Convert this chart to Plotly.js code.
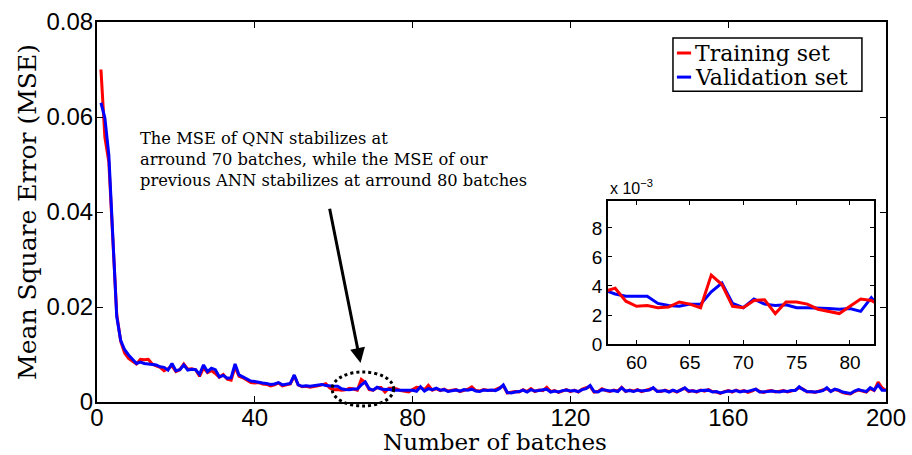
<!DOCTYPE html>
<html>
<head>
<meta charset="utf-8">
<script src="https://cdn.plot.ly/plotly-3.0.1.min.js"></script>
<style>html,body{margin:0;padding:0;background:#fff;}#chart{width:912px;height:455px;}</style>
</head>
<body>
<div id="chart"></div>
<script>
// Training set MSE per batch (batches 1..200)
const trainingMSE = [
0.0700,0.0557,0.0505,0.0350,0.0185,0.0128,0.0103,0.0092,0.0085,0.0080,
0.0090,0.0089,0.0090,0.0080,0.0076,0.0073,0.0066,0.0070,0.0076,0.0064,
0.0068,0.0080,0.0069,0.0070,0.0068,0.0054,0.0072,0.0062,0.0066,0.0060,
0.0052,0.0058,0.0048,0.0046,0.0074,0.0054,0.0051,0.0046,0.0041,0.0040,
0.0041,0.0038,0.0037,0.0034,0.0036,0.0040,0.0034,0.0036,0.0038,0.0055,
0.0036,0.0032,0.0033,0.0031,0.0032,0.0034,0.0036,0.00385,0.00295,0.0026,
0.00265,0.0025,0.00255,0.0029,0.00275,0.0025,0.00475,0.0041,0.0026,0.0025,
0.0030,0.00305,0.0021,0.0029,0.0029,0.00275,0.0024,0.00225,0.0021,0.0026,
0.0031,0.0030,0.0026,0.0035,0.0025,0.0028,0.0024,0.0027,0.0023,0.0025,
0.0026,0.0022,0.0025,0.0027,0.0032,0.0024,0.0023,0.0026,0.0025,0.0024,
0.0026,0.0030,0.0034,0.0019,0.0020,0.0022,0.0021,0.0026,0.0022,0.0028,
0.0022,0.0025,0.0024,0.0031,0.0022,0.0024,0.0020,0.0023,0.0026,0.0022,
0.0025,0.0021,0.0027,0.0030,0.0033,0.0021,0.0022,0.0028,0.0024,0.0022,
0.0025,0.0023,0.0031,0.0022,0.0025,0.0023,0.0026,0.0022,0.0024,0.0026,
0.0029,0.0023,0.0022,0.0025,0.0022,0.0024,0.0021,0.0026,0.0029,0.0022,
0.0024,0.0021,0.0025,0.0023,0.0026,0.0022,0.0021,0.0018,0.0022,0.0024,
0.0021,0.0025,0.0022,0.0024,0.0020,0.0023,0.0027,0.0022,0.0020,0.0023,
0.0024,0.0021,0.0022,0.0024,0.0021,0.0023,0.0025,0.0030,0.0027,0.0021,
0.0022,0.0020,0.0023,0.0025,0.0028,0.0023,0.0026,0.0024,0.0020,0.0018,
0.0017,0.0022,0.0025,0.0023,0.0021,0.0028,0.0024,0.0042,0.0030,0.0024
];
// Validation set MSE per batch (batches 1..200)
const validationMSE = [
0.0630,0.0598,0.0520,0.0345,0.0180,0.0130,0.0110,0.0099,0.0089,0.0081,
0.0084,0.0081,0.0080,0.0079,0.0078,0.0074,0.0073,0.0067,0.0081,0.0066,
0.0068,0.0078,0.0067,0.0069,0.0068,0.0058,0.0078,0.0064,0.0071,0.0068,
0.0053,0.0056,0.0050,0.0051,0.0080,0.0057,0.0053,0.0049,0.0044,0.0043,
0.0041,0.0040,0.0039,0.0037,0.0038,0.0041,0.0036,0.0038,0.0039,0.0057,
0.0036,0.0033,0.0034,0.0033,0.0034,0.0036,0.0037,0.00345,0.0033,0.0033,
0.0033,0.0028,0.00265,0.0026,0.00275,0.00275,0.0036,0.0042,0.0028,0.0025,
0.0031,0.00275,0.00265,0.0027,0.0025,0.0025,0.0025,0.00245,0.0024,0.00245,
0.00225,0.0032,0.0023,0.0028,0.0026,0.0029,0.0025,0.0026,0.0022,0.0024,
0.0025,0.0023,0.0026,0.0025,0.0027,0.0023,0.0022,0.0025,0.0024,0.0025,
0.0024,0.0028,0.0036,0.0020,0.0019,0.0021,0.0022,0.0025,0.0021,0.0026,
0.0023,0.0024,0.0025,0.0027,0.0021,0.0023,0.0021,0.0024,0.0025,0.0023,
0.0024,0.0022,0.0026,0.0028,0.0035,0.0022,0.0021,0.0026,0.0025,0.0023,
0.0024,0.0022,0.0030,0.0023,0.0024,0.0022,0.0025,0.0023,0.0024,0.0025,
0.0030,0.0022,0.0023,0.0024,0.0021,0.0025,0.0022,0.0025,0.0030,0.0023,
0.0023,0.0022,0.0024,0.0024,0.0025,0.0021,0.0022,0.0019,0.0021,0.0023,
0.0022,0.0024,0.0021,0.0023,0.0022,0.0024,0.0027,0.0021,0.0021,0.0022,
0.0023,0.0022,0.0021,0.0023,0.0022,0.0024,0.0024,0.0032,0.0026,0.0022,
0.0021,0.0021,0.0022,0.0024,0.0030,0.0022,0.0027,0.0025,0.0021,0.0019,
0.0018,0.0023,0.0026,0.0024,0.0022,0.0030,0.0025,0.0036,0.0025,0.0025
];
const batches = trainingMSE.map((_, i) => i + 1);

const mainXTicks = [0, 40, 80, 120, 160, 200];
const mainYTicks = [0, 0.02, 0.04, 0.06, 0.08];
const mainYTickText = ['0', '0.02', '0.04', '0.06', '0.08'];
const insetXTicks = [60, 65, 70, 75, 80];
const insetYTicks = [0, 0.002, 0.004, 0.006, 0.008];
const insetYTickText = ['0', '2', '4', '6', '8'];
const seriesNames = ['Training set', 'Validation set'];
const xTitle = 'Number of batches';
const yTitle = 'Mean Square Error (MSE)';
const annotationText = 'The MSE of QNN stabilizes at<br>arround 70 batches, while the MSE of our<br>previous ANN stabilizes at arround 80 batches';

const RED = '#ff0000', BLUE = '#0000ff';
const SANS = 'Liberation Sans, Arial, sans-serif';
const SERIF = 'DejaVu Serif, serif';

const traces = [
  {x: batches, y: trainingMSE, type: 'scatter', mode: 'lines', name: seriesNames[0],
   line: {color: RED, width: 3}, xaxis: 'x', yaxis: 'y'},
  {x: batches, y: validationMSE, type: 'scatter', mode: 'lines', name: seriesNames[1],
   line: {color: BLUE, width: 3}, xaxis: 'x', yaxis: 'y'},
  {x: batches, y: validationMSE, type: 'scatter', mode: 'lines', name: seriesNames[1],
   line: {color: BLUE, width: 3}, xaxis: 'x2', yaxis: 'y2', showlegend: false},
  {x: batches, y: trainingMSE, type: 'scatter', mode: 'lines', name: seriesNames[0],
   line: {color: RED, width: 3}, xaxis: 'x2', yaxis: 'y2', showlegend: false}
];

const axisCommon = {
  showline: true, linecolor: '#000', linewidth: 2, mirror: 'ticks',
  ticks: 'inside', ticklen: 6, tickwidth: 1, tickcolor: '#000',
  showgrid: false, zeroline: false
};

const layout = {
  width: 912, height: 455,
  margin: {l: 97, r: 26, t: 22, b: 53},
  paper_bgcolor: '#fff', plot_bgcolor: '#fff',
  showlegend: false,
  xaxis: Object.assign({}, axisCommon, {
    range: [0, 200], tickvals: mainXTicks, ticktext: mainXTicks.map(String),
    ticklabelstandoff: -7,
    tickfont: {family: SANS, size: 24, color: '#000'}
  }),
  yaxis: Object.assign({}, axisCommon, {
    range: [0, 0.08], tickvals: mainYTicks, ticktext: mainYTickText,
    ticklabelstandoff: -3,
    tickfont: {family: SANS, size: 24, color: '#000'},
    title: {text: yTitle, font: {family: SERIF, size: 25, color: '#000'}}
  }),
  xaxis2: Object.assign({}, axisCommon, {
    domain: [0.6477, 0.9848], anchor: 'y2', range: [57.33, 82.25],
    tickvals: insetXTicks, ticktext: insetXTicks.map(String), ticklen: 4,
    tickfont: {family: SANS, size: 19, color: '#000'}
  }),
  yaxis2: Object.assign({}, axisCommon, {
    domain: [0.1526, 0.5289], anchor: 'x2', range: [0, 0.00986],
    tickvals: insetYTicks, ticktext: insetYTickText, ticklen: 4,
    tickfont: {family: SANS, size: 19, color: '#000'}
  }),
  shapes: [
    {type: 'circle', xref: 'x domain', yref: 'y domain', x0: 0.298, x1: 0.376, y0: -0.0105, y1: 0.079,
     line: {color: '#000', width: 3, dash: 'dot'}, layer: 'above'},
    {type: 'rect', xref: 'paper', yref: 'paper', x0: 0.730, x1: 0.9695, y0: 0.818, y1: 0.958,
     line: {color: '#000', width: 1.5}, fillcolor: '#fff', layer: 'above'},
    {type: 'line', xref: 'paper', yref: 'paper', x0: 0.735, x1: 0.753, y0: 0.9184, y1: 0.9184,
     line: {color: RED, width: 3}, layer: 'above'},
    {type: 'line', xref: 'paper', yref: 'paper', x0: 0.735, x1: 0.753, y0: 0.855, y1: 0.855,
     line: {color: BLUE, width: 3}, layer: 'above'}
  ],
  annotations: [
    {xref: 'paper', yref: 'paper', x: 0.5045, y: -0.106, xanchor: 'center', yanchor: 'middle',
     text: xTitle, showarrow: false, font: {family: SERIF, size: 23, color: '#000'}},
    {xref: 'paper', yref: 'paper', x: 0.756, y: 0.9184, xanchor: 'left', yanchor: 'middle',
     text: seriesNames[0], showarrow: false, font: {family: SERIF, size: 22, color: '#000'}},
    {xref: 'paper', yref: 'paper', x: 0.756, y: 0.855, xanchor: 'left', yanchor: 'middle',
     text: seriesNames[1], showarrow: false, font: {family: SERIF, size: 22, color: '#000'}},
    {xref: 'paper', yref: 'paper', x: 0.052, y: 0.637, xanchor: 'left', yanchor: 'middle', align: 'left',
     text: annotationText, showarrow: false, font: {family: SERIF, size: 16.3, color: '#000'}},
    {xref: 'x', yref: 'y', x: 66.8, y: 0.0082, ax: 58.9, ay: 0.041, axref: 'x', ayref: 'y',
     text: '', showarrow: true, arrowhead: 2, arrowsize: 1, arrowwidth: 3, arrowcolor: '#000'},
    {xref: 'paper', yref: 'paper', x: 0.6477, y: 0.535, xanchor: 'left', yanchor: 'bottom',
     text: 'x 10<sup>−3</sup>', showarrow: false, font: {family: SANS, size: 16, color: '#000'}}
  ]
};

Plotly.newPlot('chart', traces, layout, {displayModeBar: false, staticPlot: true});
</script>
</body>
</html>
